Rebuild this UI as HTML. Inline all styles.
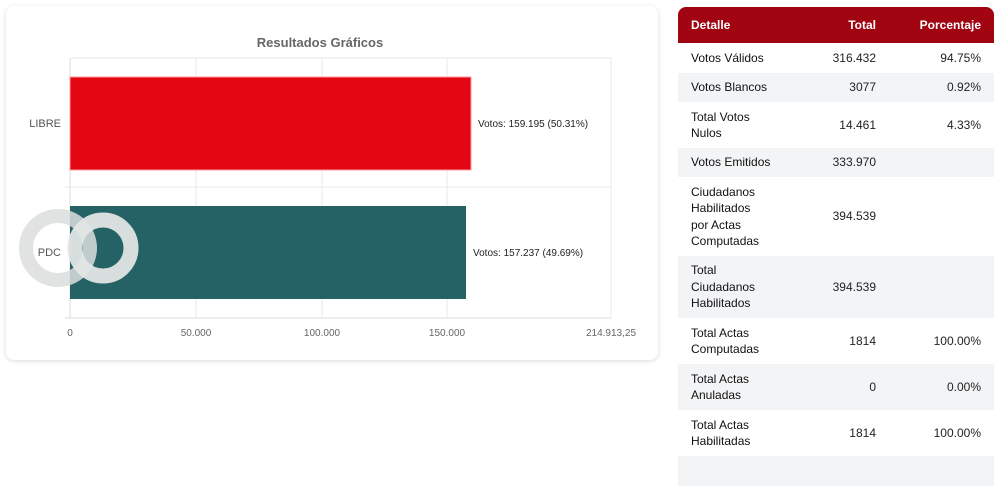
<!DOCTYPE html>
<html><head><meta charset="utf-8"><style>
body{margin:0;width:1000px;height:460px;background:#fff;font-family:"Liberation Sans",sans-serif;position:relative;overflow:hidden}
.card{position:absolute;left:6px;top:6px;width:652px;height:354px;background:#fff;border-radius:8px;box-shadow:0 1px 5px rgba(0,0,0,.15)}
table{position:absolute;left:678px;top:7px;width:316px;border-collapse:collapse;font-size:12px;color:#222;table-layout:fixed}
th{background:#a10512;color:#fff;height:36px;font-weight:bold;padding:0 13px}
th:first-child{border-top-left-radius:8px;text-align:left}
th:last-child{border-top-right-radius:8px}
td{padding:0 13px;line-height:16.5px;white-space:nowrap}
td:first-child{text-align:left;color:#111}
th:nth-child(2),td:nth-child(2){text-align:right;padding-right:22px}
td:nth-child(3),th:nth-child(3){text-align:right}
tr:nth-child(odd) td{background:#f3f4f6}
</style></head><body>
<div class="card"></div>
<svg width="1000" height="460" style="position:absolute;left:0;top:0" font-family="Liberation Sans, sans-serif">
<text x="320" y="47" text-anchor="middle" font-size="13" font-weight="bold" fill="#666">Resultados Gráficos</text>
<g stroke="#e8e8e8" stroke-width="1">
<line x1="70" y1="58" x2="611" y2="58"/><line x1="65" y1="187" x2="611" y2="187"/>
<line x1="196" y1="58" x2="196" y2="318"/><line x1="322" y1="58" x2="322" y2="318"/><line x1="447" y1="58" x2="447" y2="318"/><line x1="611" y1="58" x2="611" y2="318"/>
</g>
<line x1="70" y1="58" x2="70" y2="318" stroke="#ddd"/>
<line x1="65" y1="318" x2="611" y2="318" stroke="#ddd"/>
<rect x="70" y="77" width="401" height="93" fill="#e30613" stroke="#ff9aa0" stroke-width="1"/>
<rect x="70" y="206" width="396" height="93" fill="#256265"/>
<text x="61" y="127" text-anchor="end" font-size="11" fill="#555">LIBRE</text>
<text x="61" y="256" text-anchor="end" font-size="11" fill="#555">PDC</text>
<text x="478" y="127" font-size="10" fill="#222">Votos: 159.195 (50.31%)</text>
<text x="473" y="256" font-size="10" fill="#222">Votos: 157.237 (49.69%)</text>
<g font-size="10" fill="#666" text-anchor="middle">
<text x="70" y="336">0</text><text x="196" y="336">50.000</text><text x="322" y="336">100.000</text><text x="447" y="336">150.000</text><text x="611" y="336">214.913,25</text>
</g>
<circle cx="58" cy="248" r="32" fill="none" stroke="#dcdede" stroke-width="14" opacity=".85"/>
<circle cx="103" cy="248" r="28" fill="none" stroke="#e2e5e5" stroke-width="15" opacity=".95"/>
</svg>
<table>
<colgroup><col style="width:140px"><col style="width:80px"><col style="width:96px"></colgroup>
<tr><th>Detalle</th><th>Total</th><th>Porcentaje</th></tr>
<tr style="height:30px"><td>Votos Válidos</td><td>316.432</td><td>94.75%</td></tr>
<tr style="height:29px"><td>Votos Blancos</td><td>3077</td><td>0.92%</td></tr>
<tr style="height:46px"><td>Total Votos<br>Nulos</td><td>14.461</td><td>4.33%</td></tr>
<tr style="height:29px"><td>Votos Emitidos</td><td>333.970</td><td></td></tr>
<tr style="height:79px"><td>Ciudadanos<br>Habilitados<br>por Actas<br>Computadas</td><td>394.539</td><td></td></tr>
<tr style="height:62px"><td>Total<br>Ciudadanos<br>Habilitados</td><td>394.539</td><td></td></tr>
<tr style="height:46px"><td>Total Actas<br>Computadas</td><td>1814</td><td>100.00%</td></tr>
<tr style="height:46px"><td>Total Actas<br>Anuladas</td><td>0</td><td>0.00%</td></tr>
<tr style="height:46px"><td>Total Actas<br>Habilitadas</td><td>1814</td><td>100.00%</td></tr>
<tr style="height:30px"><td></td><td></td><td></td></tr>
</table>
</body></html>
